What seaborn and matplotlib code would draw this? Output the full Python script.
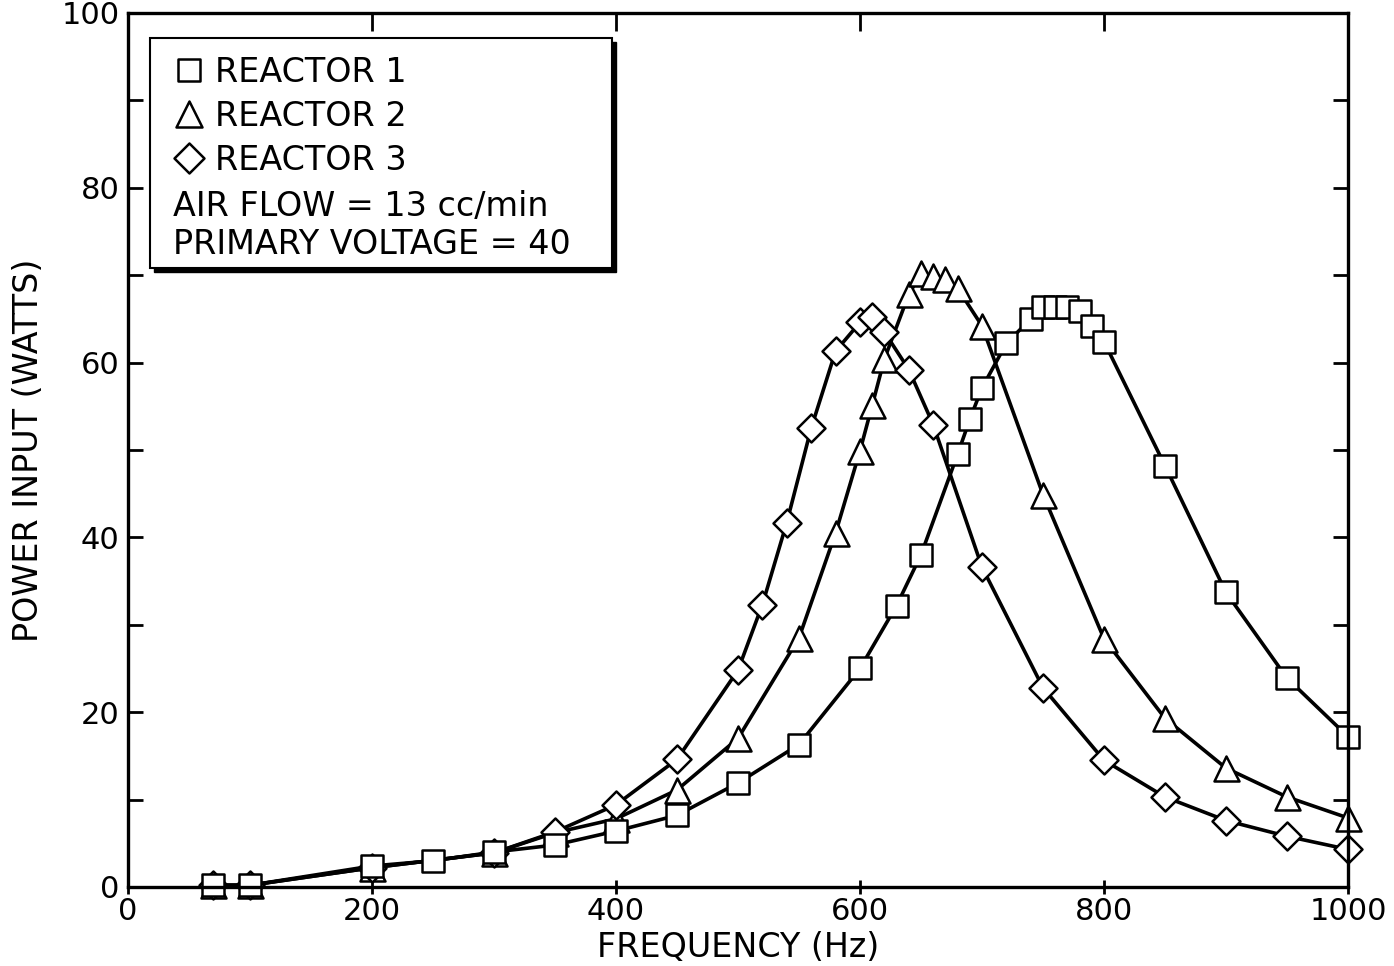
import matplotlib
matplotlib.use("Agg")
import matplotlib.pyplot as plt
import seaborn as sns
import pandas as pd
from matplotlib.lines import Line2D
from matplotlib.markers import MarkerStyle
from matplotlib.patches import Rectangle
from matplotlib.ticker import MultipleLocator

# ---- data ----
freq_r1 = [70, 100, 200, 250, 300, 350, 400, 450, 500, 550, 600, 630, 650, 680, 690, 700,
           720, 740, 750, 760, 770, 780, 790, 800, 850, 900, 950, 1000]
power_r1 = [0.2, 0.2, 2.4, 3.0, 4.0, 4.8, 6.4, 8.2, 11.9, 16.3, 25.0, 32.2, 38.0, 49.5, 53.5, 57.1,
            62.2, 65.0, 66.4, 66.4, 66.3, 65.9, 64.2, 62.4, 48.2, 33.7, 23.9, 17.2]

freq_r2 = [70, 100, 200, 300, 350, 400, 450, 500, 550, 580, 600, 610, 620, 640, 650, 660, 670,
           680, 700, 750, 800, 850, 900, 950, 1000]
power_r2 = [0.2, 0.2, 2.2, 3.9, 6.2, 7.8, 11.1, 17.0, 28.5, 40.5, 49.9, 55.1, 60.4, 67.8, 70.2, 69.9, 69.6,
            68.5, 64.2, 44.9, 28.4, 19.3, 13.6, 10.3, 7.9]

freq_r3 = [70, 100, 200, 300, 350, 400, 450, 500, 520, 540, 560, 580, 600, 610, 620, 640, 660,
           700, 750, 800, 850, 900, 950, 1000]
power_r3 = [0.2, 0.2, 2.2, 3.9, 6.3, 9.4, 14.6, 24.8, 32.3, 41.7, 52.5, 61.3, 64.6, 65.2, 63.5, 59.2, 52.9,
            36.6, 22.8, 14.5, 10.3, 7.6, 5.8, 4.3]

series_names = ["REACTOR 1", "REACTOR 2", "REACTOR 3"]
note_lines = ["AIR FLOW = 13 cc/min", "PRIMARY VOLTAGE = 40"]
x_ticks = [0, 200, 400, 600, 800, 1000]
y_ticks = [0, 20, 40, 60, 80, 100]

# ---- style ----
sns.set_style("ticks")
plt.rcParams["font.family"] = ["DejaVu Sans"]
for k in ["text.color", "axes.labelcolor", "xtick.color", "ytick.color", "axes.edgecolor"]:
    plt.rcParams[k] = "black"

fig = plt.figure(figsize=(13.94, 9.66), dpi=100)
ax = fig.add_axes([0.0918, 0.0818, 0.8752, 0.9048])

mk_sq = MarkerStyle("s", joinstyle="round")
mk_tr = MarkerStyle("^", joinstyle="round")
mk_di = MarkerStyle("D", joinstyle="round")

common = dict(color="black", linewidth=2.6, markerfacecolor="white",
              markeredgecolor="black", markeredgewidth=1.8, ax=ax, legend=False,
              clip_on=False)

df1 = pd.DataFrame({"f": freq_r1, "p": power_r1})
df2 = pd.DataFrame({"f": freq_r2, "p": power_r2})
df3 = pd.DataFrame({"f": freq_r3, "p": power_r3})

sns.lineplot(data=df2, x="f", y="p", marker=mk_tr, markersize=18, **common)
sns.lineplot(data=df3, x="f", y="p", marker=mk_di, markersize=14.5, **common)
sns.lineplot(data=df1, x="f", y="p", marker=mk_sq, markersize=16.5, **common)

ax.set_xlim(0, 1000)
ax.set_ylim(0, 100)
ax.set_xticks(x_ticks)
ax.set_yticks(y_ticks)
ax.yaxis.set_minor_locator(MultipleLocator(10))

for s in ax.spines.values():
    s.set_linewidth(2.4)
    s.set_color("black")

ax.tick_params(axis="y", which="both", direction="in", length=11, width=2,
               left=True, right=True, labelsize=22, pad=6)
ax.tick_params(axis="x", which="major", direction="inout", length=10, width=2,
               top=False, bottom=True, labelsize=22, pad=2)
ax.tick_params(axis="x", which="minor", bottom=False, top=False)
secx = ax.secondary_xaxis("top")
secx.set_xticks(x_ticks)
secx.tick_params(direction="in", length=13, width=2, labeltop=False)
secx.spines["top"].set_visible(False)

ax.set_xlabel("FREQUENCY (Hz)", fontsize=24, labelpad=4)
ax.set_ylabel("POWER INPUT (WATTS)", fontsize=24, labelpad=12)

# ---- legend box with shadow ----
x0, y0, w, h = 0.018, 0.708, 0.379, 0.263
shadow = Rectangle((x0 + 4 / 1220, y0 - 4 / 874), w, h, transform=ax.transAxes,
                   facecolor="black", edgecolor="black", linewidth=1, zorder=8)
box = Rectangle((x0, y0), w, h, transform=ax.transAxes,
                facecolor="white", edgecolor="black", linewidth=1.5, zorder=9)
ax.add_patch(shadow)
ax.add_patch(box)

handles = [
    Line2D([], [], linestyle="none", marker=mk_sq, markersize=16, markerfacecolor="white",
           markeredgecolor="black", markeredgewidth=1.8),
    Line2D([], [], linestyle="none", marker=mk_tr, markersize=19, markerfacecolor="white",
           markeredgecolor="black", markeredgewidth=1.8),
    Line2D([], [], linestyle="none", marker=mk_di, markersize=15, markerfacecolor="white",
           markeredgecolor="black", markeredgewidth=1.8),
]
leg = ax.legend(handles, series_names, loc="upper left",
                bbox_to_anchor=((172 - 128) / 1220, (887 - 56) / 874),
                frameon=False, fontsize=24, handlelength=1.0, handletextpad=0.3,
                labelspacing=0.33, borderpad=0.0, borderaxespad=0.0)
leg.set_zorder(10)

ax.text((173 - 128) / 1220, (887 - 207) / 874, note_lines[0], transform=ax.transAxes,
        fontsize=24, va="center", ha="left", zorder=11)
ax.text((173 - 128) / 1220, (887 - 245) / 874, note_lines[1], transform=ax.transAxes,
        fontsize=24, va="center", ha="left", zorder=11)

fig.savefig("out.png", dpi=100, facecolor="white")
